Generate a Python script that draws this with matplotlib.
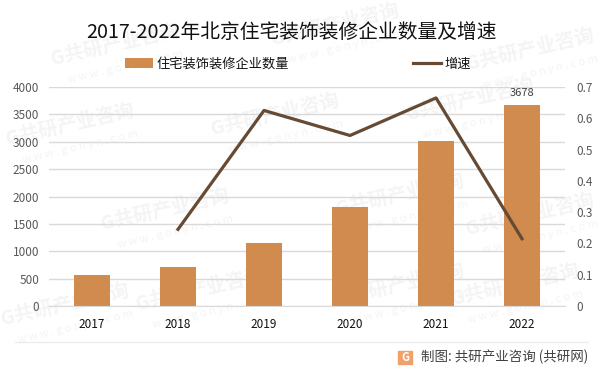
import matplotlib
matplotlib.use("Agg")
import matplotlib.pyplot as plt
from matplotlib.patches import Rectangle

plt.rcParams['font.family'] = ['Noto Sans CJK SC', 'DejaVu Sans']

years = ["2017", "2018", "2019", "2020", "2021", "2022"]
counts = [570, 715, 1150, 1810, 3020, 3678]
growth = [None, 0.245, 0.625, 0.545, 0.665, 0.215]
left_ticks = [0, 500, 1000, 1500, 2000, 2500, 3000, 3500, 4000]
right_ticks = [0, 0.1, 0.2, 0.3, 0.4, 0.5, 0.6, 0.7]
title = "2017-2022年北京住宅装饰装修企业数量及增速"
footer = "制图: 共研产业咨询 (共研网)"

W, H = 600, 373
fig = plt.figure(figsize=(W / 100, H / 100), dpi=100)

# watermark, kept under the axes
marks = [(115, 45), (335, 25), (530, 50), (70, 125), (275, 115), (470, 100),
         (165, 210), (400, 195), (530, 215), (65, 305), (200, 290), (400, 285), (515, 285)]
for mx, my in marks:
    fig.text(mx / W, 1 - my / H, "G共研产业咨询", fontsize=14, fontweight="bold", color="#f4f4f4",
             rotation=13, ha="center", va="center", zorder=-5)
    fig.text((mx + 10) / W, 1 - (my + 22) / H, "w w w . g o n y n . c o m", fontsize=8, color="#f4f4f4",
             rotation=13, ha="center", va="center", zorder=-5)

ax = fig.add_axes([49 / W, 1 - 306 / H, 516 / W, 219 / H])
ax.patch.set_alpha(0)
x = list(range(len(years)))
bars = ax.bar(x, counts, width=0.41, color="#d18b4f", label="住宅装饰装修企业数量", zorder=2)
ax.set_xlim(-0.5, 5.5)
ax.set_ylim(0, 4000)
ax.set_yticks(left_ticks)
ax.set_xticks(x)
ax.set_xticklabels(years)
ax.grid(axis="y", color="#d9d9d9", lw=1, zorder=1)
ax.set_axisbelow(True)
ax.tick_params(axis="y", length=0, labelsize=8.5, labelcolor="#595959", pad=7)
ax.tick_params(axis="x", length=0, labelsize=8.5, labelcolor="#111111", pad=9)
for s in ["top", "left", "right"]:
    ax.spines[s].set_visible(False)
ax.spines["bottom"].set_color("#d9d9d9")
ax.text(x[-1], counts[-1] + 125, str(counts[-1]), ha="center", va="bottom", fontsize=8, color="#404040")

ax2 = ax.twinx()
ax2.patch.set_alpha(0)
line, = ax2.plot(x[1:], growth[1:], color="#664a33", lw=2.3, label="增速", zorder=3)
ax2.set_ylim(0, 0.7)
ax2.set_yticks(right_ticks)
ax2.set_yticklabels(["0", "0.1", "0.2", "0.3", "0.4", "0.5", "0.6", "0.7"])
ax2.tick_params(axis="y", length=0, labelsize=8.5, labelcolor="#595959", pad=8)
for s in ax2.spines.values():
    s.set_visible(False)

fig.text(291.5 / W, 1 - 32 / H, title, ha="center", va="center", fontsize=14.2, color="#111111")

# legend spread across the top like the original
fig.legend([bars, line], ["住宅装饰装修企业数量", "增速"], loc="center", ncol=2,
           bbox_to_anchor=(298 / W, 1 - 64 / H), frameon=False, fontsize=9.5,
           columnspacing=9.4, handlelength=2.1, handletextpad=0.3, labelcolor="#111111")

# footer rule and logo
fig.add_artist(plt.Line2D([15 / W, 588 / W], [1 - 342 / H, 1 - 342 / H], color="#ececec", lw=1))
fig.add_artist(Rectangle((398 / W, 1 - 364 / H), 14 / W, 13 / H, color="#f2a06a", transform=fig.transFigure))
fig.text(405 / W, 1 - 357.5 / H, "G", fontsize=8, fontweight="bold", color="white", ha="center", va="center")
fig.text(421 / W, 1 - 357 / H, footer, fontsize=9.7, color="#404040", ha="left", va="center")

fig.savefig("out.png", dpi=100)
